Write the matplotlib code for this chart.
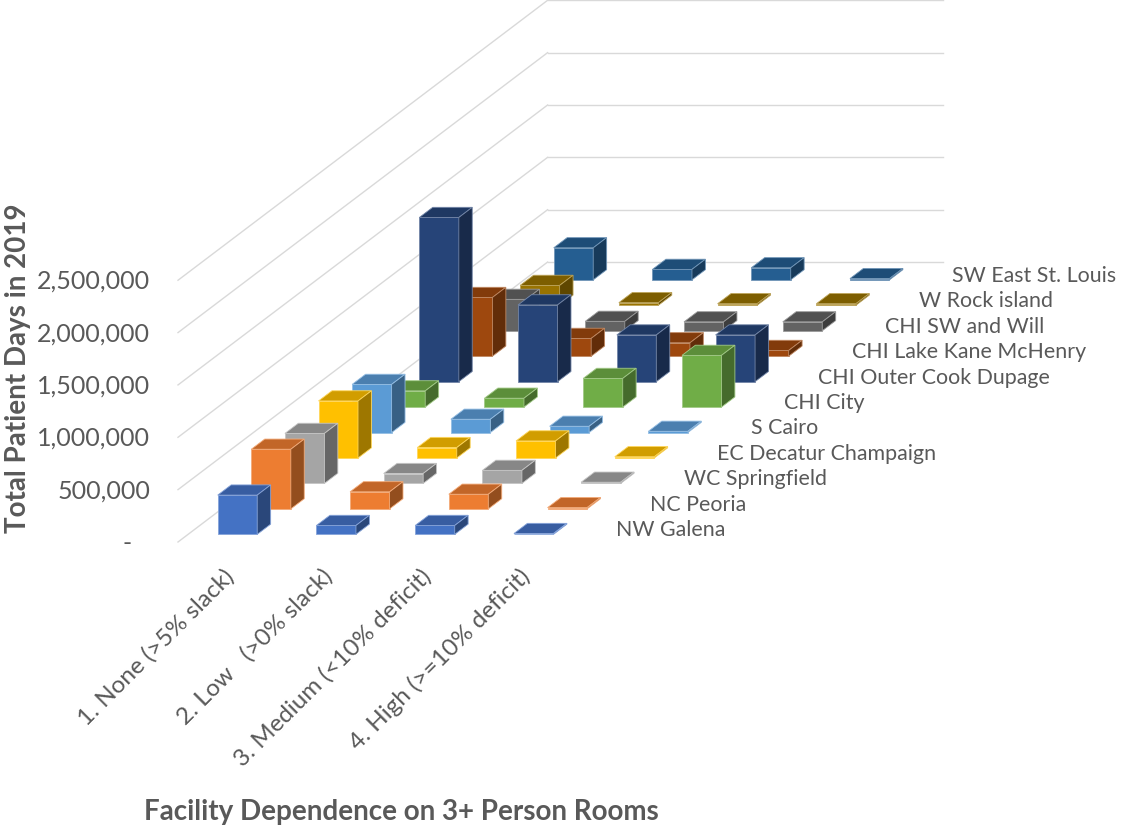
import numpy as np
import matplotlib
matplotlib.use('Agg')
import matplotlib.pyplot as plt
from matplotlib.transforms import Affine2D
from matplotlib.colors import to_rgb

plt.rcParams['font.family'] = ['Lato', 'DejaVu Sans']

# categories along x, regions along depth (front to back)
categories = ['1. None (>5% slack)', '2. Low   (>0% slack)',
              '3. Medium (<10% deficit)', '4. High (>=10% deficit)']
regions = ['NW Galena', 'NC Peoria', 'WC Springfield', 'EC Decatur Champaign',
           'S Cairo', 'CHI City', 'CHI Outer Cook Dupage', 'CHI Lake Kane McHenry',
           'CHI SW and Will', 'W Rock island', 'SW East St. Louis']
region_colors = ['#4472C4', '#ED7D31', '#A5A5A5', '#FFC000', '#5B9BD5', '#70AD47',
                 '#264478', '#9E480E', '#636363', '#997300', '#255E91']

# total patient days, one list per category (same order as regions)
none_slack = [375000, 570000, 478000, 545000, 460000, 155000,
              1568000, 561000, 300000, 190000, 306000]
low_slack = [85000, 163000, 95000, 100000, 127000, 85000,
             733000, 170000, 90000, 25000, 100000]
medium_deficit = [85000, 140000, 125000, 163000, 60000, 274000,
                  446000, 128000, 85000, 15000, 115000]
high_deficit = [8000, 12000, 12000, 12000, 12000, 494000,
                446000, 55000, 85000, 15000, 12000]
values = [none_slack, low_slack, medium_deficit, high_deficit]

yticks = [0, 500000, 1000000, 1500000, 2000000, 2500000]

GRAY = '#595959'
FS_TICK = 18
FS_ROW = 15.4
FS_CAT = 17.5
FS_TITLE = 20

# oblique projection layout (pixels of a 1122x828 canvas)
W, H = 1122, 828
X0, Y0 = 178, 543          # front-left floor corner
CAT_PX = 98.75             # one category slot
PX_PER_STEP = 52.35        # pixels per 500,000
ROW_DX, ROW_DY = 33.6, 25.45   # screen shift for one row of depth
BAR_W, BAR_D = 0.4, 0.4

per_px = 500000 / PX_PER_STEP
kx = ROW_DX / CAT_PX
ky = ROW_DY * per_px
n_rows = len(regions)
n_cats = len(categories)


def shade(c, f):
    r, g, b = to_rgb(c)
    return (r * f, g * f, b * f)


def light(c, f=0.35):
    r, g, b = to_rgb(c)
    return (r + (1 - r) * f, g + (1 - g) * f, b + (1 - b) * f)


fig = plt.figure(figsize=(W / 100, H / 100), dpi=100)
ax = fig.add_axes([0, 0, 1, 1])
ax.set_xlim(-X0 / CAT_PX, (W - X0) / CAT_PX)
ax.set_ylim(-(H - Y0) * per_px, Y0 * per_px)
ax.set_autoscale_on(False)
ax.axis('off')

# side wall and back wall gridlines
for v in yticks:
    ax.plot([0, n_rows * kx], [v, v + n_rows * ky], color='#D9D9D9', lw=1, zorder=1)
    ax.plot([n_rows * kx, n_cats + n_rows * kx], [v + n_rows * ky] * 2,
            color='#D9D9D9', lw=1, zorder=1)

# bars, back row first
for r in reversed(range(n_rows)):
    col = region_colors[r]
    d0 = r + (1 - BAR_D) / 2
    for c in range(n_cats):
        h = values[c][r]
        x0 = c + (1 - BAR_W) / 2
        x1 = x0 + BAR_W
        ec = light(col)
        front = Affine2D().translate(kx * d0, ky * d0) + ax.transData
        ax.bar(x0, h, width=BAR_W, align='edge', color=col, edgecolor=ec,
               lw=0.6, transform=front, zorder=2)
        top = Affine2D(np.array([[1, kx, 0], [0, ky, h], [0, 0, 1]])) + ax.transData
        ax.bar(x0, BAR_D, width=BAR_W, bottom=d0, align='edge',
               color=shade(col, 0.82), edgecolor=ec, lw=0.6, transform=top, zorder=2)
        side = Affine2D(np.array([[kx, 0, x1], [ky, 1, 0], [0, 0, 1]])) + ax.transData
        ax.bar(d0, h, width=BAR_D, align='edge', color=shade(col, 0.62),
               edgecolor=ec, lw=0.6, transform=side, zorder=2)

# value axis labels
for v in yticks:
    if v == 0:
        ax.text(-0.284 - 0.19, v, '-', ha='right', va='center', fontsize=FS_TICK, color=GRAY)
    else:
        ax.text(-0.284, v, f'{v:,}', ha='right', va='center', fontsize=FS_TICK, color=GRAY)

# region labels along the depth
for r, name in enumerate(regions):
    ax.text(n_cats + kx * (r + 0.5) + 0.27, ky * (r + 0.5), name,
            ha='left', va='center', fontsize=FS_ROW, color=GRAY)

# category labels
for c, name in enumerate(categories):
    ax.text(c + 0.53, -30 * per_px, name, rotation=45, rotation_mode='anchor',
            ha='right', va='center', fontsize=FS_CAT, color=GRAY)

fig.text(18 / W, 1 - 368 / H, 'Total Patient Days in 2019', rotation=90,
         ha='center', va='center', fontsize=FS_TITLE, fontweight='bold', color=GRAY)
fig.text(401 / W, 1 - 812 / H, 'Facility Dependence on 3+ Person Rooms',
         ha='center', va='center', fontsize=FS_TITLE, fontweight='bold', color=GRAY)

fig.savefig('out.png', dpi=100)
